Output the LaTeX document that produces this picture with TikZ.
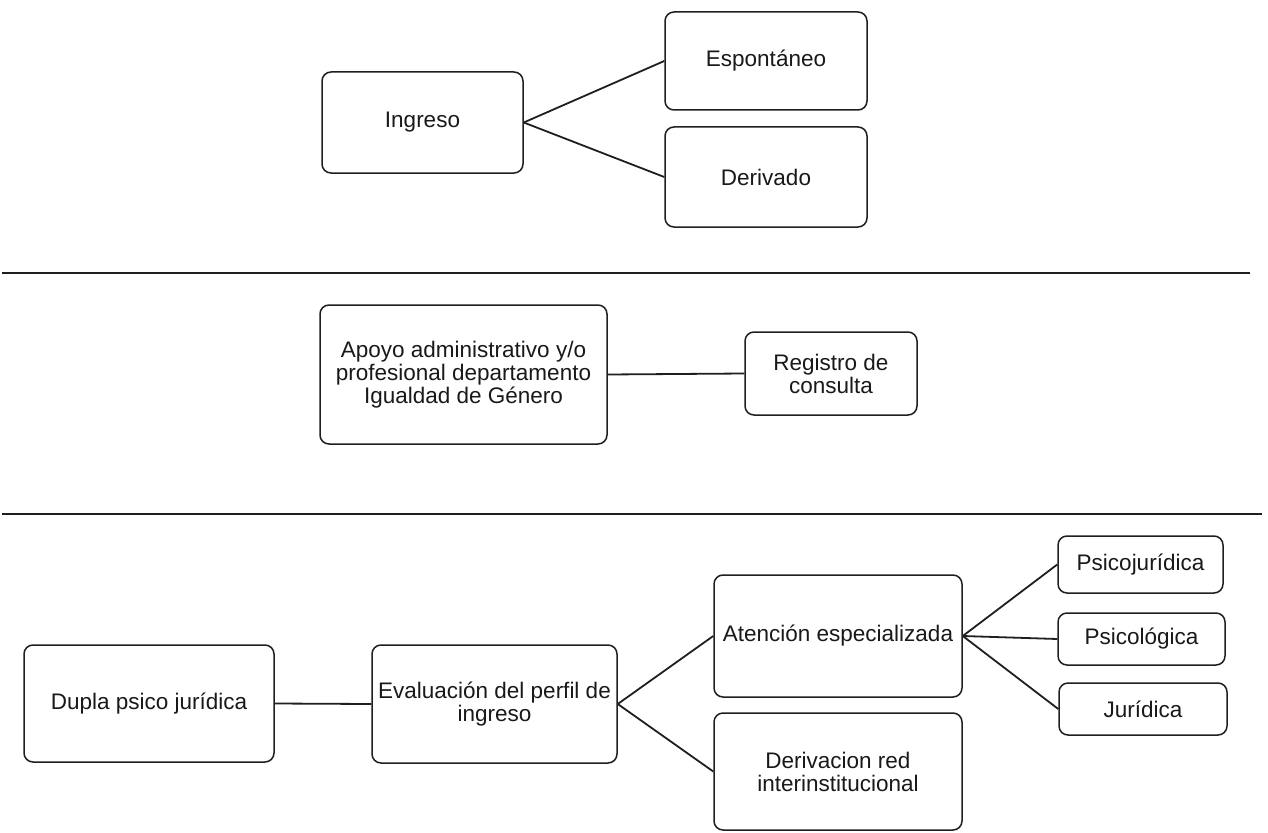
\documentclass[tikz,border=0pt]{standalone}
\usepackage{fontspec}
\setmainfont{Liberation Sans}
\tikzset{
  box/.style={draw=black!88, line width=1.5pt, rounded corners=9pt, fill=white,
    align=center, inner sep=2pt, text=black!90,
    font=\fontsize{22.5}{23}\selectfont},
  link/.style={draw=black!88, line width=1.8pt},
  sepline/.style={draw=black!88, line width=2.8pt},
}
\begin{document}
\begin{tikzpicture}[x=1pt,y=-1pt]
\path[fill=white] (0,0) rectangle (1268,832);
\useasboundingbox (0,0) rectangle (1268,832);

% section 1
\node[box, minimum width=201pt, minimum height=101pt] (ingreso) at (422.5,122.5) {Ingreso};
\node[box, minimum width=202pt, minimum height=98pt] (espont) at (766,61) {Espontáneo};
\node[box, minimum width=202pt, minimum height=100pt] (deriv) at (766,177) {Derivado};
\draw[link] (ingreso.east) -- (espont.west);
\draw[link] (ingreso.east) -- (deriv.west);

% separator 1
\coordinate (s1a) at (2,273);
\coordinate (s1b) at (1250,273);
\draw[sepline] (s1a) -- (s1b);

% section 2
\node[box, minimum width=287pt, minimum height=139pt] (apoyo) at (463.5,374.5)
  {Apoyo administrativo y/o\\profesional departamento\\Igualdad de Género};
\node[box, minimum width=172pt, minimum height=83pt] (registro) at (831,373.5)
  {Registro de\\consulta};
\draw[link] (apoyo.east) -- (registro.west);

% separator 2
\coordinate (s2a) at (2,514);
\coordinate (s2b) at (1262,514);
\draw[sepline] (s2a) -- (s2b);

% section 3
\node[box, minimum width=250pt, minimum height=117pt] (dupla) at (149,703.5) {Dupla psico jurídica};
\node[box, minimum width=245pt, minimum height=118pt] (eval) at (494.5,704)
  {Evaluación del perfil de\\ingreso};
\node[box, minimum width=248pt, minimum height=122pt] (atenc) at (838,636) {Atención especializada};
\node[box, minimum width=248pt, minimum height=117pt] (derivred) at (838,771.5)
  {Derivacion red\\interinstitucional};
\node[box, minimum width=165pt, minimum height=57pt] (psicoj) at (1140.5,564.5) {Psicojurídica};
\node[box, minimum width=167pt, minimum height=52pt] (psicol) at (1141.5,639) {Psicológica};
\node[box, minimum width=168pt, minimum height=52pt] (jurid) at (1143,709) {Jurídica};

\draw[link] (dupla.east) -- (eval.west);
\draw[link] (eval.east) -- (atenc.west);
\draw[link] (eval.east) -- (derivred.west);
\draw[link] (atenc.east) -- (psicoj.west);
\draw[link] (atenc.east) -- (psicol.west);
\draw[link] (atenc.east) -- (jurid.west);
\end{tikzpicture}
\end{document}
